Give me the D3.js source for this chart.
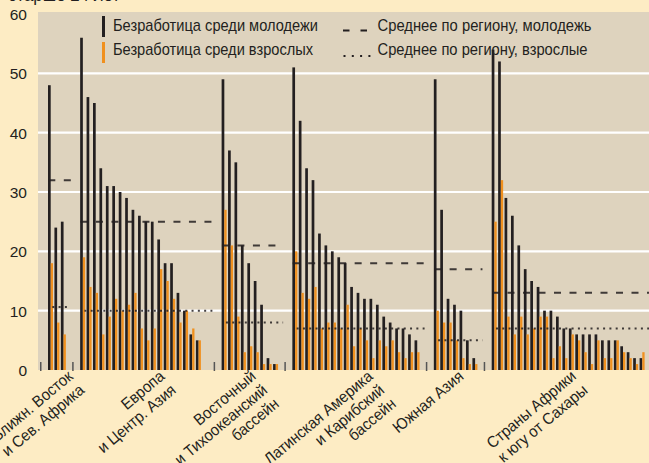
<!DOCTYPE html>
<html>
<head>
<meta charset="utf-8">
<script src="https://cdn.jsdelivr.net/npm/d3@7/dist/d3.min.js"></script>
<style>
  body { margin: 0; background: #fdecc4; }
  svg { display: block; font-family: 'Liberation Sans', Arial, sans-serif; }
</style>
</head>
<body>
<div id="chart"></div>
<script>
// --- data (%) ---
var regionNames = [
    ["Ближн. Восток", "и Сев. Африка"],
    ["Европа", "и Центр. Азия"],
    ["Восточный", "и Тихоокеанский", "бассейн"],
    ["Латинская Америка", "и Карибский", "бассейн"],
    ["Южная Азия"],
    ["Страны Африки", "к югу от Сахары"]
];
var youthMena = [48, 24, 25];
var adultMena = [18, 8, 6];
var youthEca = [56, 46, 45, 34, 31, 31, 30, 29, 27, 26, 25, 25, 22, 18, 18, 13, 10, 6, 5];
var adultEca = [19, 14, 13, 6, 9, 12, 10, 11, 13, 7, 5, 7, 17, 15, 12, 8, 10, 7, 5];
var youthEap = [49, 37, 35, 21, 18, 15, 11, 2, 1];
var adultEap = [27, 21, 9, 3, 4, 3, 1, 1, 1];
var youthLac = [51, 42, 34, 32, 23, 21, 20, 19, 18, 14, 13, 12, 12, 11, 9, 8, 7, 7, 6, 5];
var adultLac = [20, 13, 12, 14, 7, 8, 8, 7, 11, 4, 7, 5, 2, 5, 4, 5, 3, 2, 3, 3];
var youthSa = [49, 27, 12, 11, 10, 5, 2];
var adultSa = [10, 8, 8, 5, 2, 1, 1];
var youthSsa = [54, 52, 29, 26, 21, 17, 15, 14, 10, 10, 9, 7, 7, 6, 6, 6, 6, 5, 5, 5, 4, 3, 2, 2];
var adultSsa = [25, 32, 9, 6, 9, 6, 7, 9, 9, 2, 4, 2, 6, 5, 3, 1, 5, 2, 2, 5, 3, 2, 1, 3];
var avgYouth = [32, 25, 21, 18, 17, 13];
var avgAdult = [10.6, 10, 8, 7, 5, 7];
var yTicks = [0, 10, 20, 30, 40, 50, 60];
var legendLabels = [
    "Безработица среди молодежи",
    "Безработица среди взрослых",
    "Среднее по региону, молодежь",
    "Среднее по региону, взрослые"
];
var titleText = "старше 24 лет";

// --- layout ---
var W = 649, H = 463;
var colBg = "#fdecc4", colPlot = "#ded3be", colBlack = "#231f20", colOrange = "#f0901e";
var plotLeft = 38, plotRight = 649;
var gapBefore = [0, 2, 3, 2, 2, 2];      // empty slots before each region
var labelNudge = [17, 25, 7, 18, 9, 9];   // hand placement of rotated labels

var youth = [youthMena, youthEca, youthEap, youthLac, youthSa, youthSsa];
var adult = [adultMena, adultEca, adultEap, adultLac, adultSa, adultSsa];

// slot index for every country
var groups = [], slot = 0;
youth.forEach(function (ys, g) {
    slot += gapBefore[g];
    groups.push({ start: slot, end: slot + ys.length - 1 });
    slot += ys.length;
});
var bars = [];
groups.forEach(function (gr, g) {
    youth[g].forEach(function (v, i) {
        bars.push({ s: gr.start + i, youth: v, adult: adult[g][i] });
    });
});

var x = d3.scaleLinear().domain([0, 92]).range([49.3, 640.9]);
var y = d3.scaleLinear().domain([0, 60]).range([370, 14]);

var svg = d3.select("#chart").append("svg")
    .attr("width", W).attr("height", H);

svg.append("rect").attr("width", W).attr("height", H).attr("fill", colBg);

// cut-off subtitle at the very top
svg.append("text")
    .attr("x", 8).attr("y", 1)
    .attr("font-size", 19).attr("fill", colBlack)
    .attr("textLength", 112).attr("lengthAdjust", "spacingAndGlyphs")
    .text(titleText);

svg.append("rect")
    .attr("x", plotLeft).attr("y", y(60) - 2)
    .attr("width", plotRight - plotLeft).attr("height", y(0) - y(60) + 2)
    .attr("fill", colPlot);

// white grid
svg.append("g").selectAll("line")
    .data(yTicks.filter(function (d) { return d > 0 && d < 60; }))
    .enter().append("line")
    .attr("x1", plotLeft).attr("x2", plotRight)
    .attr("y1", function (d) { return y(d); })
    .attr("y2", function (d) { return y(d); })
    .attr("stroke", "#fff").attr("stroke-width", 2.2);

// y axis labels
var yAxis = d3.axisLeft(y).tickValues(yTicks).tickSize(0).tickPadding(0);
var yg = svg.append("g").attr("transform", "translate(27,0)").call(yAxis);
yg.select(".domain").remove();
yg.attr("font-family", null).attr("font-size", null);
yg.selectAll("text")
    .attr("font-size", 15.5).attr("fill", colBlack)
    .attr("dy", "0.36em");

// bars
var barG = svg.append("g");
barG.selectAll("rect.youth").data(bars).enter().append("rect")
    .attr("class", "youth")
    .attr("x", function (d) { return x(d.s) - 1.3; })
    .attr("width", 2.7)
    .attr("y", function (d) { return y(d.youth); })
    .attr("height", function (d) { return y(0) - y(d.youth); })
    .attr("fill", colBlack);
barG.selectAll("rect.adult").data(bars).enter().append("rect")
    .attr("class", "adult")
    .attr("x", function (d) { return x(d.s) + 1.4; })
    .attr("width", 2.3)
    .attr("y", function (d) { return y(d.adult); })
    .attr("height", function (d) { return y(0) - y(d.adult); })
    .attr("fill", colOrange);

// region separators on the baseline
var sepX = groups.map(function (gr) { return x(gr.start - 1.5) + 1.1; });
svg.append("g").selectAll("line").data(sepX).enter().append("line")
    .attr("x1", function (d) { return d; }).attr("x2", function (d) { return d; })
    .attr("y1", y(0) - 8).attr("y2", y(0) + 1)
    .attr("stroke", "#555").attr("stroke-width", 1.5);

// regional averages
function avgEnd(g) { return g < groups.length - 1 ? sepX[g + 1] - 2 : plotRight; }
svg.append("g").selectAll("line").data(avgYouth).enter().append("line")
    .attr("x1", function (d, g) { return x(groups[g].start) - 1; })
    .attr("x2", function (d, g) { return avgEnd(g); })
    .attr("y1", function (d) { return y(d); }).attr("y2", function (d) { return y(d); })
    .attr("stroke", colBlack).attr("stroke-opacity", 0.85)
    .attr("stroke-width", 2).attr("stroke-dasharray", "7,8.5");
svg.append("g").selectAll("line").data(avgAdult).enter().append("line")
    .attr("x1", function (d, g) { return x(groups[g].start) + 3; })
    .attr("x2", function (d, g) { return avgEnd(g); })
    .attr("y1", function (d) { return y(d); }).attr("y2", function (d) { return y(d); })
    .attr("stroke", colBlack).attr("stroke-opacity", 0.85)
    .attr("stroke-width", 2).attr("stroke-dasharray", "2,4.3");

// region labels, rotated (squeezed a little along the text, like the condensed original)
var lab = svg.append("g").selectAll("text").data(regionNames).enter().append("text")
    .attr("transform", function (d, g) {
        var mid = (groups[g].start + groups[g].end) / 2;
        return "translate(" + (x(mid) + 1.15 + labelNudge[g]) + "," + (y(0) + 8) + ") rotate(-40) scale(0.93,1)";
    })
    .attr("text-anchor", "end")
    .attr("font-size", 16).attr("fill", colBlack);
lab.selectAll("tspan").data(function (d) { return d; }).enter().append("tspan")
    .attr("x", 0)
    .attr("dy", function (d, i) { return i === 0 ? 0 : 18; })
    .text(function (d) { return d; });

// legend
var leg = svg.append("g");
leg.append("rect").attr("x", 102).attr("y", 16).attr("width", 3).attr("height", 21).attr("fill", colBlack);
leg.append("rect").attr("x", 102).attr("y", 42).attr("width", 3).attr("height", 21).attr("fill", colOrange);
leg.append("line").attr("x1", 343).attr("x2", 367).attr("y1", 30.5).attr("y2", 30.5)
    .attr("stroke", colBlack).attr("stroke-width", 2).attr("stroke-dasharray", "6.5,11");
leg.append("line").attr("x1", 343.5).attr("x2", 371).attr("y1", 56).attr("y2", 56)
    .attr("stroke", colBlack).attr("stroke-width", 2).attr("stroke-dasharray", "2,6.3");
var legPos = [[113, 31, 205], [113, 54.5, 200], [377.5, 31, 214], [377.5, 55, 210]];
leg.selectAll("text").data(legendLabels).enter().append("text")
    .attr("x", function (d, i) { return legPos[i][0]; })
    .attr("y", function (d, i) { return legPos[i][1]; })
    .attr("textLength", function (d, i) { return legPos[i][2]; })
    .attr("lengthAdjust", "spacingAndGlyphs")
    .attr("font-size", 17).attr("fill", colBlack)
    .text(function (d) { return d; });
</script>
</body>
</html>
